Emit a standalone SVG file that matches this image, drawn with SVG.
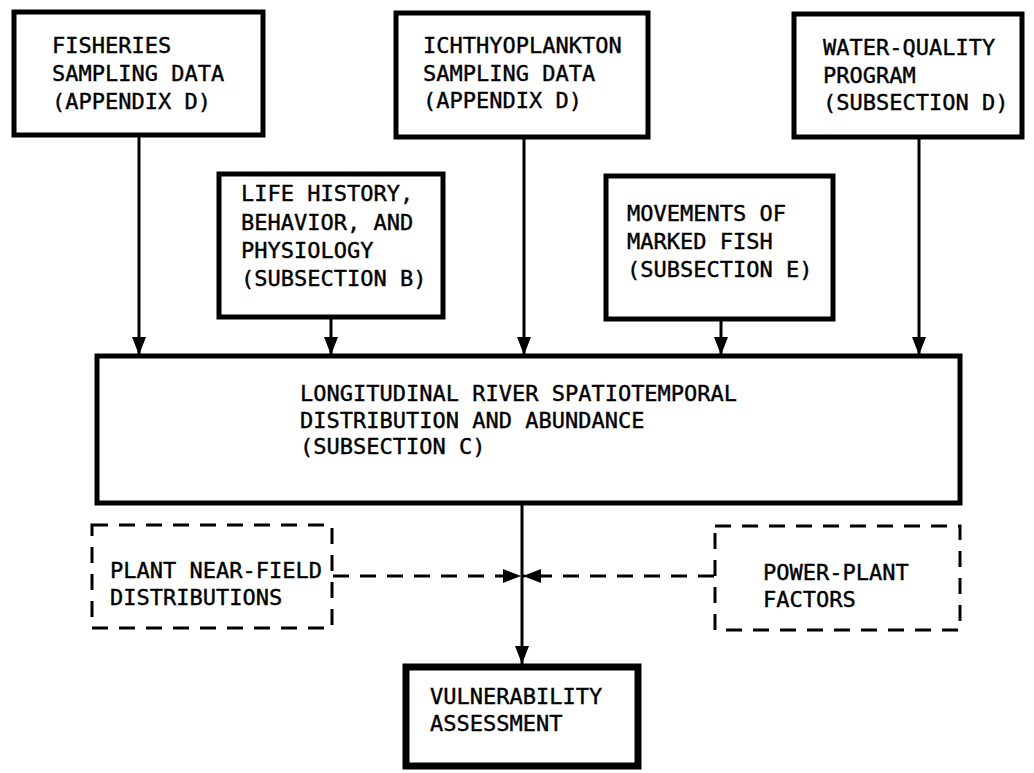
<svg xmlns="http://www.w3.org/2000/svg" width="1034" height="773" viewBox="0 0 1034 773">
<style>
  .box { fill: #fff; stroke: #000; stroke-width: 5; }
  .dbox { fill: #fff; stroke: #000; stroke-width: 3; stroke-dasharray: 16 11; }
  .t { font-family: "DejaVu Sans Mono", "Liberation Mono", monospace; font-size: 22px; fill: #000; stroke: #000; stroke-width: 0.4; }
  .c { stroke: #000; stroke-width: 3; fill: none; }
  .cd { stroke: #000; stroke-width: 3; fill: none; stroke-dasharray: 16 11; }
</style>
<defs>
  <marker id="ah" markerUnits="userSpaceOnUse" markerWidth="18" markerHeight="14" viewBox="0 0 18 14" refX="18" refY="7" orient="auto">
    <path d="M0,0 L18,7 L0,14 z" fill="#000"/>
  </marker>
</defs>
<rect width="1034" height="773" fill="#fff"/>
<g id="connectors">
  <line class="c" x1="139" y1="135" x2="139" y2="355" marker-end="url(#ah)"/>
  <line class="c" x1="331" y1="317" x2="331" y2="355" marker-end="url(#ah)"/>
  <line class="c" x1="524" y1="137" x2="524" y2="355" marker-end="url(#ah)"/>
  <line class="c" x1="721" y1="319" x2="721" y2="355" marker-end="url(#ah)"/>
  <line class="c" x1="919" y1="137" x2="919" y2="355" marker-end="url(#ah)"/>
  <line class="c" x1="522" y1="503" x2="522" y2="664" marker-end="url(#ah)"/>
  <line class="cd" x1="333" y1="576" x2="521" y2="576" marker-end="url(#ah)"/>
  <line class="cd" x1="714" y1="576" x2="523" y2="576" marker-end="url(#ah)"/>
</g>
<g id="fisheries">
  <rect class="box" x="14" y="12" width="249" height="123"/>
  <text class="t" x="52" y="53">FISHERIES</text>
  <text class="t" x="52" y="81">SAMPLING DATA</text>
  <text class="t" x="52" y="109">(APPENDIX D)</text>
</g>
<g id="ichthyoplankton">
  <rect class="box" x="396" y="13" width="252" height="124"/>
  <text class="t" x="423" y="53">ICHTHYOPLANKTON</text>
  <text class="t" x="423" y="81">SAMPLING DATA</text>
  <text class="t" x="423" y="108">(APPENDIX D)</text>
</g>
<g id="water-quality">
  <rect class="box" x="794" y="14" width="228" height="123"/>
  <text class="t" x="823" y="55">WATER-QUALITY</text>
  <text class="t" x="823" y="83">PROGRAM</text>
  <text class="t" x="823" y="110">(SUBSECTION D)</text>
</g>
<g id="life-history">
  <rect class="box" x="219" y="174" width="224" height="143"/>
  <text class="t" x="241" y="201">LIFE HISTORY,</text>
  <text class="t" x="241" y="230">BEHAVIOR, AND</text>
  <text class="t" x="241" y="258">PHYSIOLOGY</text>
  <text class="t" x="241" y="286">(SUBSECTION B)</text>
</g>
<g id="marked-fish">
  <rect class="box" x="606" y="176" width="227" height="143"/>
  <text class="t" x="627" y="221">MOVEMENTS OF</text>
  <text class="t" x="627" y="249">MARKED FISH</text>
  <text class="t" x="627" y="277">(SUBSECTION E)</text>
</g>
<g id="distribution">
  <rect class="box" x="97" y="356" width="863" height="147"/>
  <text class="t" x="300" y="401">LONGITUDINAL RIVER SPATIOTEMPORAL</text>
  <text class="t" x="300" y="428">DISTRIBUTION AND ABUNDANCE</text>
  <text class="t" x="300" y="454">(SUBSECTION C)</text>
</g>
<g id="near-field">
  <rect class="dbox" x="92" y="525" width="240" height="103"/>
  <text class="t" x="110" y="578">PLANT NEAR-FIELD</text>
  <text class="t" x="110" y="605">DISTRIBUTIONS</text>
</g>
<g id="power-plant">
  <rect class="dbox" x="715" y="526" width="245" height="104"/>
  <text class="t" x="763" y="580">POWER-PLANT</text>
  <text class="t" x="763" y="607">FACTORS</text>
</g>
<g id="vulnerability">
  <rect x="406" y="667" width="232" height="99" fill="#fff" stroke="#000" stroke-width="7"/>
  <text class="t" x="430" y="704">VULNERABILITY</text>
  <text class="t" x="430" y="731">ASSESSMENT</text>
</g>
</svg>
